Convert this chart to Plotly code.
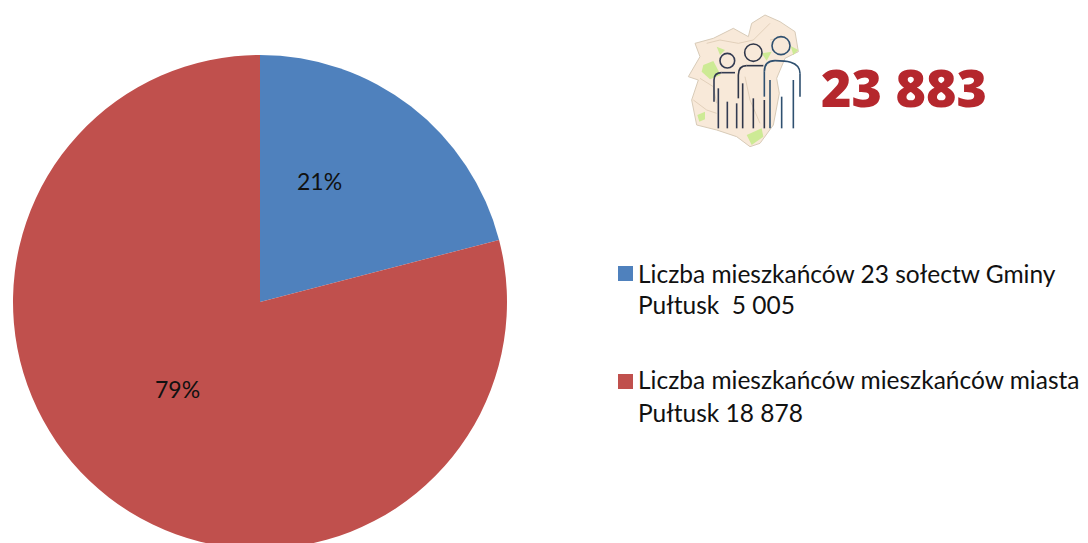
import plotly.graph_objects as go

categories = ["Liczba mieszkańców 23 sołectw Gminy Pułtusk  5 005",
              "Liczba mieszkańców mieszkańców miasta Pułtusk 18 878"]
values = [5005, 18878]
colors = ["#4f81bd", "#c0504d"]
pct_labels = ["21%", "79%"]
total_label = "23 883"
legend_lines = [["Liczba mieszkańców 23 sołectw Gminy", "Pułtusk  5 005"],
                ["Liczba mieszkańców mieszkańców miasta", "Pułtusk 18 878"]]

W, H = 1088, 560
FONT = "Lato, Carlito, Calibri, sans-serif"

def px(x): return x / W
def py(y): return 1 - y / H

def path(points, close=False):
    s = "M " + " L ".join(f"{px(x):.5f},{py(y):.5f}" for x, y in points)
    return s + (" Z" if close else "")

def zoom_pts(pts):
    return [(670 + x / 3, y / 3) for x, y in pts]

def curve(pts):
    p = zoom_pts(pts)
    return f"M {px(p[0][0]):.5f},{py(p[0][1]):.5f} C " + " ".join(f"{px(x):.5f},{py(y):.5f}" for x, y in p[1:])

fig = go.Figure(go.Pie(
    labels=categories, values=values, sort=False, direction="clockwise", rotation=0,
    marker=dict(colors=colors, line=dict(width=0)),
    textinfo="none", hoverinfo="label+percent", showlegend=False,
    domain=dict(x=[px(13), px(507)], y=[py(549), py(55)]),
))

shapes = []
annotations = []

def text(x, y, s, size=24.5, color="#111111", font=FONT, anchor="left", weight=None):
    f = dict(family=font, size=size, color=color)
    if weight:
        f["weight"] = weight
    annotations.append(dict(x=px(x), y=py(y), xref="paper", yref="paper", text=s, showarrow=False,
                            xanchor=anchor, yanchor="middle", font=f))

text(319.5, 181, pct_labels[0], size=23, anchor="center")
text(177.5, 389, pct_labels[1], size=23, anchor="center")

# legend
for (l1, l2), c, sq, y1, y2 in zip(legend_lines, colors, (273.5, 381.5), (273, 379), (304, 412)):
    shapes.append(dict(type="rect", xref="paper", yref="paper", x0=px(618), x1=px(633), y0=py(sq + 7.5), y1=py(sq - 7.5),
                       fillcolor=c, line=dict(width=0)))
    text(636, y1, l1)
    text(636, y2, l2)

# map
outline = [(285,45),(330,65),(375,95),(385,155),(345,175),(320,235),(328,280),(310,375),(270,430),(240,440),
           (200,410),(140,390),(80,375),(65,300),(85,240),(55,230),(90,170),(75,130),(130,115),(190,85),(235,110),(245,70)]
shapes.append(dict(type="path", xref="paper", yref="paper", path=path(zoom_pts(outline), True),
                   fillcolor="#f8e9d9", line=dict(color="#d8cbb8", width=1)))
greens = [[(100,195),(130,183),(152,225),(120,238),(95,215)],
          [(82,345),(105,335),(105,358),(88,365)],
          [(230,405),(275,385),(280,410),(245,435)],
          [(362,138),(385,150),(370,165)],
          [(275,160),(305,155),(290,182)],
          [(140,140),(165,150),(150,165)]]
for g in greens:
    shapes.append(dict(type="path", xref="paper", yref="paper", path=path(zoom_pts(g), True),
                       fillcolor="#cdea95", line=dict(width=0)))
roads = [[(205,130),(250,120),(300,70)], [(90,235),(130,260),(140,310)], [(225,230),(240,300),(270,370)],
         [(110,130),(150,120),(205,130)], [(70,300),(110,330),(140,340)], [(300,120),(345,110)]]
for r in roads:
    shapes.append(dict(type="path", xref="paper", yref="paper", path=path(zoom_pts(r)),
                       line=dict(color="#dcc9b2", width=0.8)))

# people
people = [
    dict(color="#333b52", head=(172,182,22),
         body=[(132,305),(132,240)], shoulder=[(132,240),(132,225),(142,218),(155,218)], sh2=[(155,218),(170,218),(185,218),(195,218)],
         legs=[(145,265),(172,305),(200,310)]),
    dict(color="#2f3649", head=(250,158,26),
         body=[(205,295),(205,225)], shoulder=[(205,225),(205,205),(215,197),(230,197)], sh2=[(230,197),(250,197),(265,197),(280,197)],
         legs=[(218,250),(250,295),(283,300)]),
    dict(color="#2f5070", head=(333,137,27),
         body=[(283,290),(283,215)], shoulder=[(283,215),(283,192),(295,182),(315,182)], sh2=[(315,182),(340,182),(390,182),(390,220)],
         legs=[(300,240),(335,290),(370,240)]),
]
for p in people:
    line = dict(color=p["color"], width=1.6)
    cx, cy, r = p["head"]
    (x0, y0), (x1, y1) = zoom_pts([(cx - r, cy - r), (cx + r, cy + r)])
    shapes.append(dict(type="circle", xref="paper", yref="paper", x0=px(x0), x1=px(x1), y0=py(y1), y1=py(y0), line=line))
    shapes.append(dict(type="path", xref="paper", yref="paper", path=path(zoom_pts(p["body"])), line=line))
    shapes.append(dict(type="path", xref="paper", yref="paper", path=curve(p["shoulder"]), line=line))
    shapes.append(dict(type="path", xref="paper", yref="paper", path=curve(p["sh2"]), line=line))
    for lx, ly in p["legs"]:
        shapes.append(dict(type="path", xref="paper", yref="paper", path=path(zoom_pts([(lx, ly), (lx, 385)])), line=line))
shapes.append(dict(type="path", xref="paper", yref="paper", path=path(zoom_pts([(390,220),(390,290)])),
                   line=dict(color="#2f5070", width=1.6)))

text(903.5, 86, total_label, size=52, color="#b5272d", font="Open Sans", anchor="center", weight=800)

fig.update_layout(width=W, height=H, margin=dict(l=0, r=0, t=0, b=0), paper_bgcolor="white",
                  showlegend=False, shapes=shapes, annotations=annotations)

fig.write_html("out.html", config=dict(displayModeBar=False), post_script=(
    "document.documentElement.style.overflow='hidden';document.body.style.overflow='hidden';"
    "document.body.style.margin='0';"))
